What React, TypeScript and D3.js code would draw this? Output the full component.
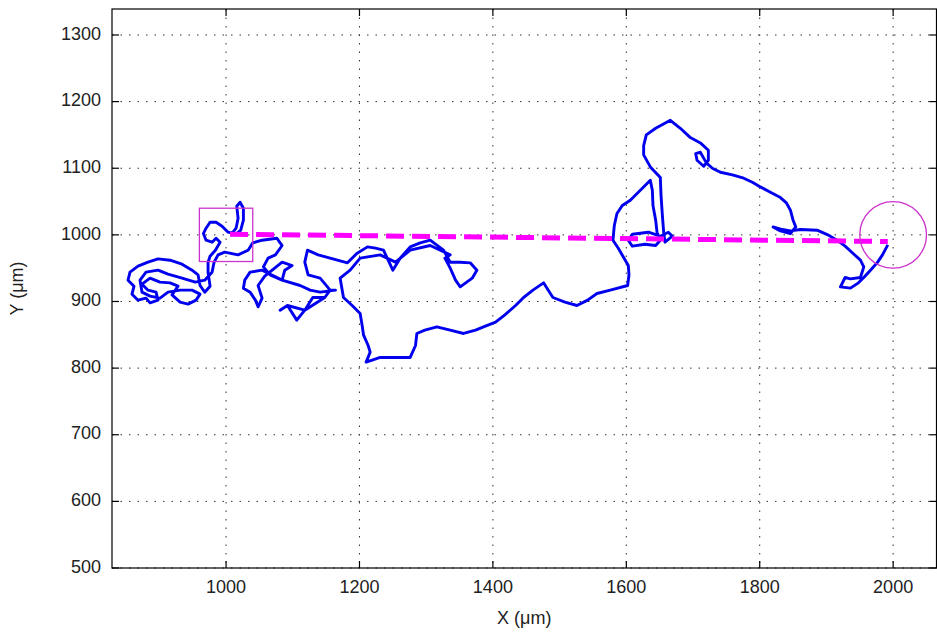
import React from "react";
import * as d3 from "d3";

// cell track, in um
const trackX = [
  1008, 1015, 1018, 1016, 1021, 1026, 1026, 1022, 1015, 1003, 994, 985, 976, 970, 966, 970, 979, 985, 991, 984, 976, 973,
  973, 976, 968, 961, 958, 949, 934, 916, 898, 883, 868, 856, 853, 862, 859, 868, 880, 886, 898, 895, 883, 874, 886, 901,
  916, 928, 919, 931, 943, 955, 961, 949, 931, 913, 901, 886, 874, 871, 880, 898, 913, 934, 954, 968, 979, 982, 988, 998,
  1018, 1033,
  1040, 1054, 1076, 1084, 1074, 1063, 1056, 1066, 1084, 1054, 1036, 1028, 1026, 1036, 1044, 1048, 1054, 1048, 1058, 1084,
  1099, 1088, 1084, 1111,
  1126, 1141, 1164, 1156, 1148, 1130, 1118, 1106, 1092, 1081, 1092, 1118, 1148, 1156,
  1141, 1123, 1118, 1122, 1138, 1156, 1182, 1196, 1212, 1224, 1236, 1243, 1250, 1261, 1276, 1291, 1306, 1326, 1336, 1351,
  1366, 1376, 1369, 1351, 1344, 1336, 1328, 1336, 1306, 1276, 1254, 1231, 1201, 1186, 1171, 1176,
  1189, 1201, 1204, 1206, 1213, 1216, 1210, 1219, 1231, 1254, 1276, 1284, 1286, 1298, 1316, 1336, 1356, 1374, 1386, 1404,
  1418, 1434, 1446, 1460, 1476, 1483, 1490, 1508, 1526, 1542, 1556, 1576, 1602, 1604, 1603, 1596, 1588, 1580, 1582, 1586,
  1594, 1606, 1621, 1636, 1639, 1640, 1644, 1646, 1651, 1644, 1628, 1609, 1603, 1609, 1633, 1651, 1663, 1669, 1658, 1656,
  1654, 1652, 1651, 1636, 1626, 1626, 1630, 1644, 1666, 1681, 1696, 1711, 1723, 1723, 1716, 1706, 1704, 1711, 1720, 1729,
  1741, 1759, 1776, 1789, 1801, 1816, 1831, 1840, 1846, 1850, 1854, 1846, 1831, 1820, 1834, 1846, 1861, 1886, 1902, 1916,
  1928, 1940, 1951, 1956, 1951, 1936, 1928, 1921, 1936, 1948, 1956, 1966, 1976, 1984, 1992,
];
const trackY = [
  1001, 1010, 1025, 1043, 1049, 1040, 1022, 1007, 1001, 1004, 1013, 1019, 1019, 1010, 1002, 992, 989, 995, 989, 977, 968, 959,
  944, 923, 914, 924, 940, 947, 956, 962, 964, 959, 953, 944, 932, 923, 911, 902, 905, 898, 902, 914, 917, 926, 935, 929,
  928, 923, 910, 899, 896, 902, 911, 917, 917, 914, 905, 908, 914, 932, 944, 947, 941, 935, 929, 932, 944, 959, 970, 974,
  970, 977,
  988, 992, 995, 984, 970, 965, 952, 940, 932, 947, 944, 932, 920, 914, 902, 892, 905, 924, 938, 959,
  954, 947, 932, 924,
  917, 914, 917, 917, 906, 906, 887, 872, 894, 887, 894, 887, 906, 917,
  935, 940, 959, 977, 970, 965, 958, 972, 982, 980, 977, 962, 947, 965, 982, 988, 992, 977, 959, 959,
  958, 947, 935, 922, 932, 950, 965, 970, 984, 977, 959, 970, 965, 947, 935, 906,
  894, 882, 864, 850, 834, 824, 809, 812, 816, 816, 816, 834, 852, 857, 862, 857, 852, 857, 862, 869,
  880, 894, 906, 917, 928, 917, 906, 899, 894, 902, 912, 917, 924, 940, 954, 966, 980, 992, 1014, 1032,
  1044, 1052, 1067, 1082, 1067, 1044, 1022, 1004, 992, 984, 986, 983, 992, 1001, 1004, 998, 1004, 998, 989, 1004,
  1030, 1060, 1086, 1102, 1120, 1134, 1150, 1160, 1172, 1160, 1146, 1138, 1127, 1112, 1103, 1112, 1122, 1124, 1108, 1100,
  1094, 1090, 1085, 1079, 1072, 1064, 1056, 1048, 1037, 1022, 1012, 1002, 1006, 1012, 1008, 1006, 1008, 1007, 1000, 992,
  983, 972, 962, 952, 936, 934, 936, 922, 920, 928, 936, 947, 958, 970, 985,
];

// straight start-to-end line
const dashX = [1006, 1992];
const dashY = [1001, 990];

// start box and target circle
const startBox = { x: 1000, y: 1000, half: 40 };
const target = { x: 2000, y: 1000, r: 50 };

const xTicks = [1000, 1200, 1400, 1600, 1800, 2000];
const yTicks = [500, 600, 700, 800, 900, 1000, 1100, 1200, 1300];

const W = 937;
const H = 632;
const left = 112;
const right = 936.5;
const top = 9;
const bottom = 568;

export default function App() {
  const x = d3.scaleLinear().domain([829, 2065]).range([left, right]);
  const y = d3.scaleLinear().domain([500, 1339]).range([bottom, top]);

  const pts: [number, number][] = trackX.map((v, i) => [v, trackY[i]]);
  const line = d3
    .line<[number, number]>()
    .x((d) => x(d[0]))
    .y((d) => y(d[1]));

  const font = "'Liberation Sans', Arial, sans-serif";
  const tickLen = 7;

  return (
    <svg width={W} height={H} style={{ position: "absolute", left: 0, top: 0, background: "#fff" }}>
      <rect x={0} y={0} width={W} height={H} fill="#fff" />
      {/* grid */}
      {xTicks.map((t) => (
        <line key={"gx" + t} x1={x(t)} x2={x(t)} y1={top} y2={bottom} stroke="#333" strokeWidth={1} strokeDasharray="1.5 7" />
      ))}
      {yTicks.map((t) => (
        <line key={"gy" + t} x1={left} x2={right} y1={y(t)} y2={y(t)} stroke="#333" strokeWidth={1} strokeDasharray="1.5 7" />
      ))}

      <path d={line(pts) || ""} fill="none" stroke="#0000ee" strokeWidth={2.9} strokeLinejoin="round" />

      <line
        x1={x(dashX[0])}
        y1={y(dashY[0])}
        x2={x(dashX[1])}
        y2={y(dashY[1])}
        stroke="#ff00ff"
        strokeWidth={5}
        strokeDasharray="18 8"
      />
      <rect
        x={x(startBox.x - startBox.half)}
        y={y(startBox.y + startBox.half)}
        width={x(startBox.x + startBox.half) - x(startBox.x - startBox.half)}
        height={y(startBox.y - startBox.half) - y(startBox.y + startBox.half)}
        fill="none"
        stroke="#cc33cc"
        strokeWidth={1.3}
      />
      <ellipse
        cx={x(target.x)}
        cy={y(target.y)}
        rx={x(target.x + target.r) - x(target.x)}
        ry={y(target.y - target.r) - y(target.y)}
        fill="none"
        stroke="#cc33cc"
        strokeWidth={1.3}
      />

      {/* box + ticks */}
      <rect x={left} y={top} width={right - left} height={bottom - top} fill="none" stroke="#000" strokeWidth={1.2} />
      {xTicks.map((t) => (
        <g key={"tx" + t}>
          <line x1={x(t)} x2={x(t)} y1={bottom} y2={bottom - tickLen} stroke="#000" strokeWidth={1.2} />
          <line x1={x(t)} x2={x(t)} y1={top} y2={top + tickLen} stroke="#000" strokeWidth={1.2} />
          <text x={x(t)} y={bottom + 20} textAnchor="middle" dominantBaseline="middle" fontFamily={font} fontSize={18} fill="#222">
            {t}
          </text>
        </g>
      ))}
      {yTicks.map((t) => (
        <g key={"ty" + t}>
          <line x1={left} x2={left + tickLen} y1={y(t)} y2={y(t)} stroke="#000" strokeWidth={1.2} />
          <line x1={right - tickLen} x2={right} y1={y(t)} y2={y(t)} stroke="#000" strokeWidth={1.2} />
          <text x={101} y={y(t)} textAnchor="end" dominantBaseline="middle" fontFamily={font} fontSize={18} fill="#222">
            {t}
          </text>
        </g>
      ))}

      <text x={(left + right) / 2} y={619} textAnchor="middle" dominantBaseline="middle" fontFamily={font} fontSize={18} fill="#222">
        X (μm)
      </text>
      <text
        transform={`translate(18,${(top + bottom) / 2}) rotate(-90)`}
        textAnchor="middle"
        dominantBaseline="middle"
        fontFamily={font}
        fontSize={18}
        fill="#222"
      >
        Y (μm)
      </text>
    </svg>
  );
}
